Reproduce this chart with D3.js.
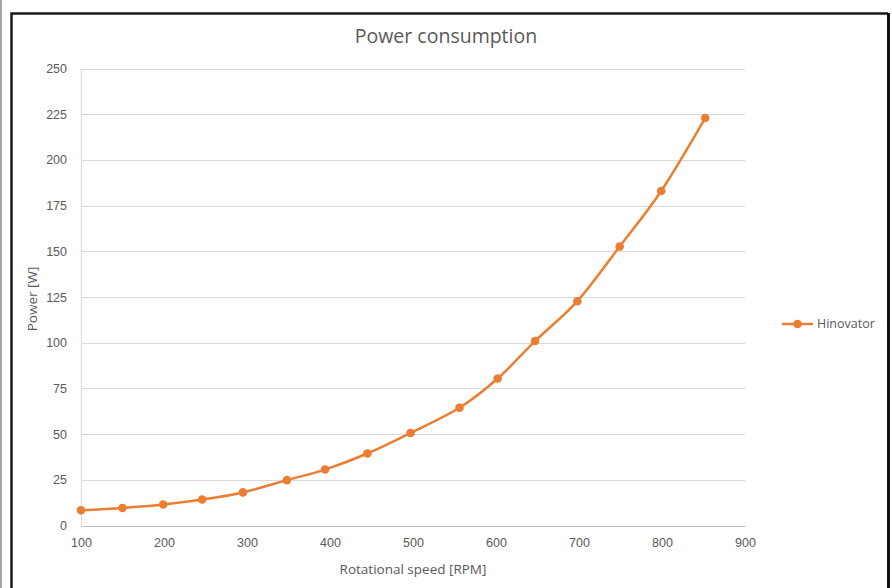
<!DOCTYPE html>
<html lang="en">
<head>
<meta charset="UTF-8">
<title>Power consumption</title>
<script src="https://d3js.org/d3.v7.min.js"></script>
<style>
    body { margin: 0; background: #fff; }
    svg { display: block; font-family: "Open Sans", "Liberation Sans", sans-serif; }
    .axis text { fill: #595959; font-size: 12.5px; }
</style>
</head>
<body>
<script>
    // data
    var speed = [100, 150, 199, 246, 295, 348, 394, 445, 497, 556, 602, 647, 698, 749, 799, 852];
    var power = [8.3, 9.6, 11.5, 14.2, 18.1, 24.8, 30.6, 39.4, 50.6, 64.4, 80.4, 100.9, 122.7, 152.6, 183, 222.9];
    var seriesName = "Hinovator";
    var xTicks = [100, 200, 300, 400, 500, 600, 700, 800, 900];
    var yTicks = [0, 25, 50, 75, 100, 125, 150, 175, 200, 225, 250];

    var W = 892, H = 588;
    var orange = "#ed7d31";

    var svg = d3.select("body").append("svg")
        .attr("width", W)
        .attr("height", H);

    // frame
    svg.append("rect").attr("x", 0).attr("y", 0).attr("width", 2).attr("height", H).attr("fill", "#a6a6a6");
    svg.append("path")
        .attr("d", "M11.5," + H + "V13.5H888")
        .attr("fill", "none").attr("stroke", "#1a1a1a").attr("stroke-width", 2.5);
    svg.append("rect").attr("x", 887).attr("y", 13).attr("width", 3).attr("height", H).attr("fill", "#111");

    var x = d3.scaleLinear().domain([100, 900]).range([81, 745]);
    var y = d3.scaleLinear().domain([0, 250]).range([525.5, 68.5]);

    // gridlines
    svg.append("g")
        .selectAll("line")
        .data(yTicks.slice(1))
        .enter()
        .append("line")
            .attr("x1", x(100)).attr("x2", x(900))
            .attr("y1", function (d) { return Math.round(y(d)) + 0.5; })
            .attr("y2", function (d) { return Math.round(y(d)) + 0.5; })
            .attr("stroke", "#d9d9d9").attr("stroke-width", 1);

    var xAxis = d3.axisBottom(x).tickValues(xTicks).tickSize(0).tickPadding(12);
    var gx = svg.append("g").attr("class", "axis")
        .attr("transform", "translate(0," + Math.round(y(0)) + ")")
        .call(xAxis);
    gx.select(".domain").attr("stroke", "#bfbfbf");

    var yAxis = d3.axisLeft(y).tickValues(yTicks).tickSize(0).tickPadding(14);
    var gy = svg.append("g").attr("class", "axis")
        .attr("transform", "translate(81,0)")
        .call(yAxis);
    gy.select(".domain").attr("stroke", "#d9d9d9");

    // titles
    svg.append("text")
        .attr("x", 446).attr("y", 43)
        .attr("text-anchor", "middle")
        .attr("fill", "#595959")
        .style("font-size", "19.5px")
        .text("Power consumption");

    svg.append("text")
        .attr("x", 413).attr("y", 574)
        .attr("text-anchor", "middle")
        .attr("fill", "#595959")
        .style("font-size", "13.5px")
        .text("Rotational speed [RPM]");

    svg.append("text")
        .attr("transform", "translate(37,299) rotate(-90)")
        .attr("text-anchor", "middle")
        .attr("fill", "#595959")
        .style("font-size", "13.5px")
        .text("Power [W]");

    // series
    var pts = speed.map(function (s, i) { return [s, power[i]]; });

    var line = d3.line()
        .x(function (d) { return x(d[0]); })
        .y(function (d) { return y(d[1]); })
        .curve(d3.curveCardinal.tension(0));

    svg.append("path")
        .datum(pts)
        .attr("d", line)
        .attr("fill", "none")
        .attr("stroke", orange)
        .attr("stroke-width", 2.5)
        .attr("stroke-linejoin", "round");

    svg.append("g")
        .selectAll("circle")
        .data(pts)
        .enter()
        .append("circle")
            .attr("cx", function (d) { return x(d[0]); })
            .attr("cy", function (d) { return y(d[1]); })
            .attr("r", 4.3)
            .attr("fill", orange);

    // legend
    var lg = svg.append("g").attr("transform", "translate(782,324)");
    lg.append("line").attr("x1", 0).attr("x2", 31).attr("y1", 0).attr("y2", 0)
        .attr("stroke", orange).attr("stroke-width", 2.5);
    lg.append("circle").attr("cx", 15.5).attr("cy", 0).attr("r", 4.3).attr("fill", orange);
    lg.append("text").attr("x", 35).attr("y", 4)
        .attr("fill", "#595959")
        .style("font-size", "12.5px")
        .text(seriesName);
</script>
</body>
</html>
